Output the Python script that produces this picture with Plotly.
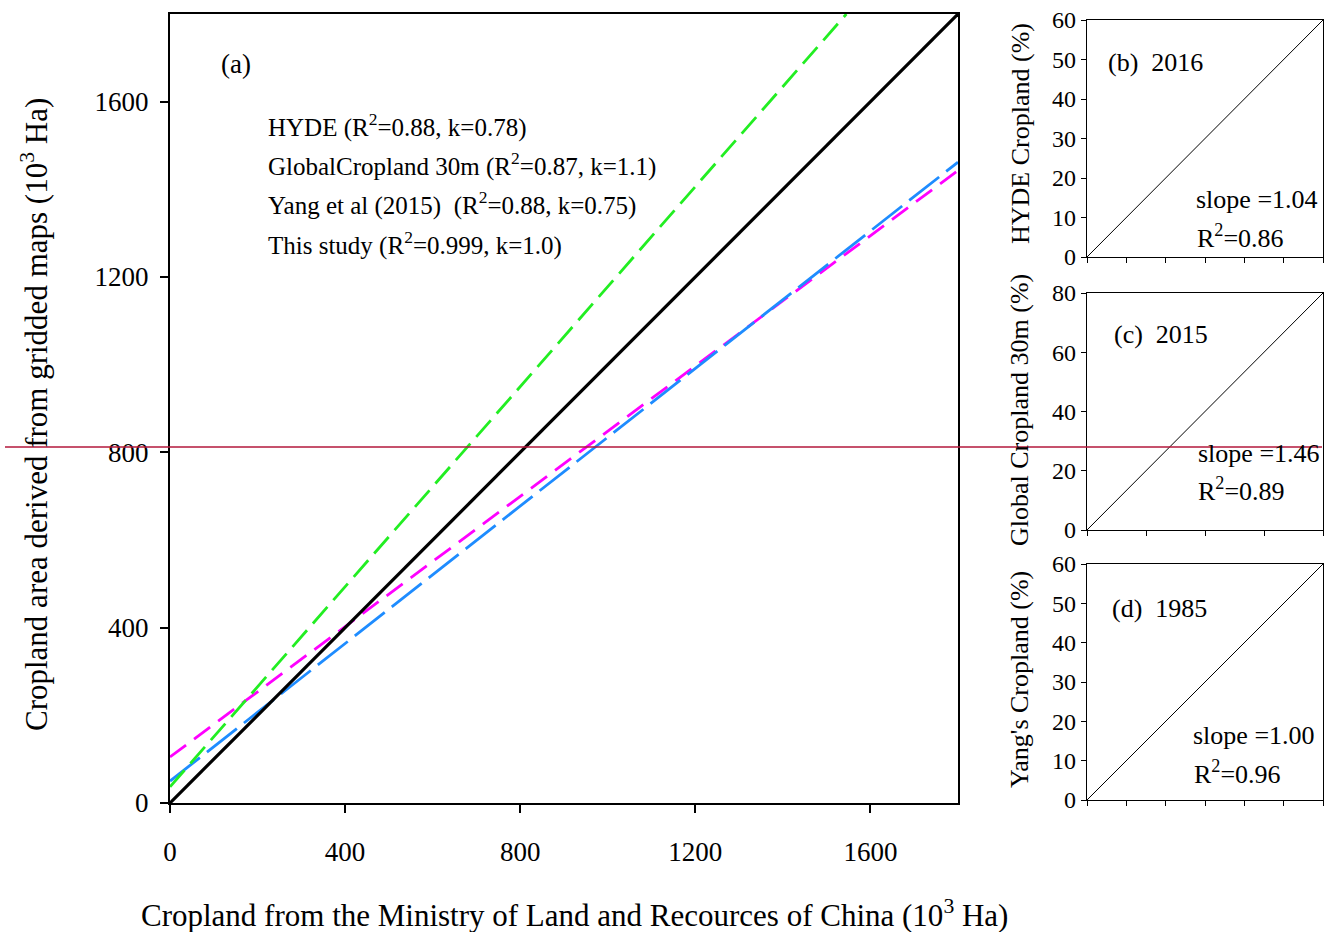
import plotly.graph_objects as go

W, H = 1325, 932
FONT = "Liberation Serif, Times New Roman, serif"

# ---- data ----
# main panel (a): fitted lines, x/y in 10^3 Ha
one_to_one_x = [0, 1800]
one_to_one_y = [0, 1800]
hyde_x = [0, 1800]
hyde_y = [50, 1462]
globalcrop_x = [0, 1545]
globalcrop_y = [37, 1800]
yang_x = [0, 1800]
yang_y = [105, 1443]

main_ticks = [0, 400, 800, 1200, 1600]

# small panels: 1:1 lines (%)
b_x = [0, 60]; b_y = [0, 60]
c_x = [0, 80]; c_y = [0, 80]
d_x = [0, 60]; d_y = [0, 60]
b_ticks = [0, 10, 20, 30, 40, 50, 60]
c_ticks = [0, 20, 40, 60, 80]
d_ticks = [0, 10, 20, 30, 40, 50, 60]

legend_lines = [
    "HYDE (R<sup>2</sup>=0.88, k=0.78)",
    "GlobalCropland 30m (R<sup>2</sup>=0.87, k=1.1)",
    "Yang et al (2015)  (R<sup>2</sup>=0.88, k=0.75)",
    "This study (R<sup>2</sup>=0.999, k=1.0)",
]


def px(x):
    return x / W


def py(y):
    return 1 - y / H


fig = go.Figure()

fig.add_trace(go.Scatter(x=yang_x, y=yang_y, mode="lines",
                         line=dict(color="#ff00ff", width=2.8, dash="20px,10px"),
                         xaxis="x", yaxis="y", showlegend=False))
fig.add_trace(go.Scatter(x=hyde_x, y=hyde_y, mode="lines",
                         line=dict(color="#1e8cff", width=2.8, dash="38px,9px"),
                         xaxis="x", yaxis="y", showlegend=False))
fig.add_trace(go.Scatter(x=globalcrop_x, y=globalcrop_y, mode="lines",
                         line=dict(color="#22ee22", width=2.8, dash="22px,9px"),
                         xaxis="x", yaxis="y", showlegend=False))
fig.add_trace(go.Scatter(x=one_to_one_x, y=one_to_one_y, mode="lines",
                         line=dict(color="black", width=3.2),
                         xaxis="x", yaxis="y", showlegend=False))

for xs, ys, xa, ya in [(b_x, b_y, "x2", "y2"), (c_x, c_y, "x3", "y3"), (d_x, d_y, "x4", "y4")]:
    fig.add_trace(go.Scatter(x=xs, y=ys, mode="lines",
                             line=dict(color="black", width=1),
                             xaxis=xa, yaxis=ya, showlegend=False))

main_ax = dict(showline=True, linecolor="black", linewidth=2, mirror=True,
               ticks="outside", ticklen=8, tickwidth=2, tickcolor="black",
               showgrid=False, zeroline=False, automargin=False,
               tickfont=dict(family=FONT, size=27, color="black"))
small_ax = dict(showline=True, linecolor="black", linewidth=1.3, mirror=True,
                ticks="outside", ticklen=5, tickwidth=1, tickcolor="black",
                showgrid=False, zeroline=False, automargin=False,
                ticklabeloverflow="allow",
                tickfont=dict(family=FONT, size=24, color="black"))

fig.update_layout(
    width=W, height=H,
    margin=dict(l=0, r=0, t=0, b=0),
    paper_bgcolor="white", plot_bgcolor="white",
    xaxis=dict(main_ax, domain=[px(170), px(958)], range=[0, 1800],
               tickvals=main_ticks, ticklabelstandoff=16, anchor="y"),
    yaxis=dict(main_ax, domain=[py(803), py(14)], range=[0, 1800],
               tickvals=main_ticks, ticklabelstandoff=6, anchor="x"),
    xaxis2=dict(small_ax, domain=[px(1087), px(1323)], range=[0, 60],
                tickvals=b_ticks, showticklabels=False, anchor="y2"),
    yaxis2=dict(small_ax, domain=[py(257), py(20)], range=[0, 60],
                tickvals=b_ticks, anchor="x2"),
    xaxis3=dict(small_ax, domain=[px(1087), px(1323)], range=[0, 80],
                tickvals=c_ticks, showticklabels=False, anchor="y3"),
    yaxis3=dict(small_ax, domain=[py(530), py(293)], range=[0, 80],
                tickvals=c_ticks, anchor="x3"),
    xaxis4=dict(small_ax, domain=[px(1087), px(1323)], range=[0, 60],
                tickvals=d_ticks, showticklabels=False, anchor="y4"),
    yaxis4=dict(small_ax, domain=[py(800), py(564)], range=[0, 60],
                tickvals=d_ticks, anchor="x4"),
)

anns = []


def txt(text, x, y, size, xanchor="left", angle=0):
    anns.append(dict(text=text, x=px(x), y=py(y), xref="paper", yref="paper",
                     xanchor=xanchor, yanchor="middle", showarrow=False,
                     textangle=angle,
                     font=dict(family=FONT, size=size, color="black")))


# panel (a)
txt("(a)", 219, 64, 27)
for i, t in enumerate(legend_lines):
    txt(t, 266, 126 + 39 * i, 25)

# axis titles
txt("Cropland from the Ministry of Land and Recources of China (10<sup>3</sup> Ha)",
    574, 913, 31, xanchor="center")
txt("Cropland area derived from gridded maps (10<sup>3</sup> Ha)",
    34, 415, 31, xanchor="center", angle=-90)

# small panels
txt("(b)  2016", 1106, 62, 26)
txt("slope =1.04", 1194, 199, 26)
txt("R<sup>2</sup>=0.86", 1195, 236, 26)
txt("HYDE Cropland (%)", 1020, 134, 26, xanchor="center", angle=-90)

txt("(c)  2015", 1112, 334, 26)
txt("slope =1.46", 1196, 453, 26)
txt("R<sup>2</sup>=0.89", 1196, 490, 26)
txt("Global Cropland 30m (%)", 1019, 410, 26, xanchor="center", angle=-90)

txt("(d)  1985", 1110, 608, 26)
txt("slope =1.00", 1191, 735, 26)
txt("R<sup>2</sup>=0.96", 1192, 772, 26)
txt("Yang's Cropland (%)", 1019, 680, 26, xanchor="center", angle=-90)

fig.update_layout(annotations=anns)

# thin red horizontal marker line across the figure
fig.add_shape(type="line", xref="paper", yref="paper",
              x0=px(5), x1=px(1322), y0=py(447), y1=py(447),
              line=dict(color="#b3173b", width=1.5))

fig.write_html(
    "out.html",
    config={"displayModeBar": False},
    post_script="document.body.style.margin='0px';document.body.style.overflow='hidden';"
                "document.documentElement.style.overflow='hidden';",
)
